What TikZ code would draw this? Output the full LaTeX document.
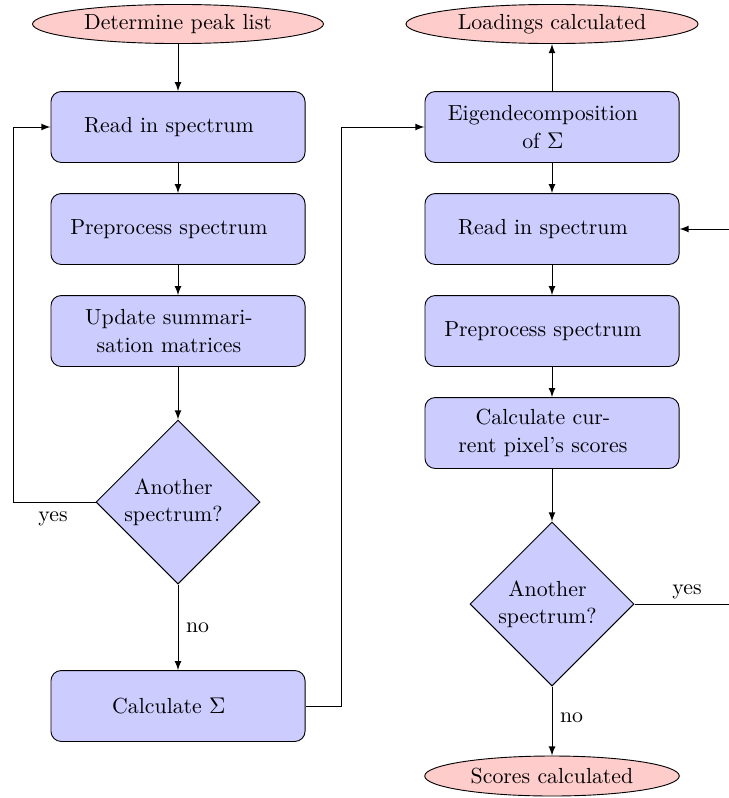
\documentclass[tikz,border=0pt]{standalone}
\usetikzlibrary{shapes.geometric,arrows}
\newcommand\padr{\hspace*{8pt}}
\newcommand\padd{\hspace*{4pt}}
\begin{document}
\begin{tikzpicture}[x=0.44pt,y=-0.44pt,
  every node/.style={font=\fontsize{9.6}{12}\selectfont},
  procbox/.style={draw,fill=blue!20,rounded corners=4.5pt,minimum width=111.8pt,minimum height=31.2pt,align=center,inner sep=0pt},
  termnode/.style={draw,ellipse,fill=red!20,align=center,inner sep=0pt},
  decnode/.style={draw,diamond,fill=blue!20,minimum width=72.2pt,minimum height=72.2pt,aspect=1,inner sep=0pt,align=center},
  flow/.style={draw,-latex}]
\useasboundingbox (0,0) rectangle (728,798);
% left column
\node[termnode,minimum width=128pt,minimum height=17.2pt] (start) at (178,24) {Determine peak list};
\node[procbox] (read1) at (178,127) {Read in spectrum\padr};
\node[procbox] (pre1) at (178,229) {Preprocess spectrum\padr};
\node[procbox] (upd) at (178,331) {Update summari-\padr\\sation matrices\padr};
\node[decnode] (dec1) at (178,502) {Another\padd\\spectrum?\padd};
\node[procbox] (calc) at (178,706) {Calculate $\Sigma$\padr};
% right column
\node[termnode,minimum width=128.5pt,minimum height=17.2pt] (load) at (552,24) {Loadings calculated};
\node[procbox] (eig) at (552,127) {Eigendecomposition\padr\\of $\Sigma$\padr};
\node[procbox] (read2) at (552,229) {Read in spectrum\padr};
\node[procbox] (pre2) at (552,331) {Preprocess spectrum\padr};
\node[procbox] (scor) at (552,433) {Calculate cur-\padr\\rent pixel's scores\padr};
\node[decnode] (dec2) at (552,604) {Another\padd\\spectrum?\padd};
\node[termnode,minimum width=112pt,minimum height=17.6pt] (endn) at (552,776) {Scores calculated};
% connectors
\coordinate (l1) at (13,502);
\coordinate (l2) at (13,127);
\coordinate (c1) at (341,706);
\coordinate (c2) at (341,127);
\coordinate (r1) at (760,604);
\coordinate (r2) at (760,229);
\draw[flow] (start) -- (read1);
\draw[flow] (read1) -- (pre1);
\draw[flow] (pre1) -- (upd);
\draw[flow] (upd) -- (dec1);
\draw[flow] (dec1) -- node[right,pos=0.5] {no} (calc);
\draw[flow] (dec1.west) -- (l1) -- (l2) -- (read1.west);
\node (yes1) at (53,519) {yes};
\draw[flow] (calc.east) -- (c1) -- (c2) -- (eig.west);
\draw[flow] (eig) -- (load);
\draw[flow] (read2) -- (pre2);
\draw[flow] (pre2) -- (scor);
\draw[flow] (scor) -- (dec2);
\draw[flow] (eig) -- (read2);
\draw[flow] (dec2) -- node[right,pos=0.45] {no} (endn);
\draw[flow] (dec2.east) -- (r1) -- (r2) -- (read2.east);
\node (yes2) at (687,592) {yes};
\end{tikzpicture}
\end{document}
